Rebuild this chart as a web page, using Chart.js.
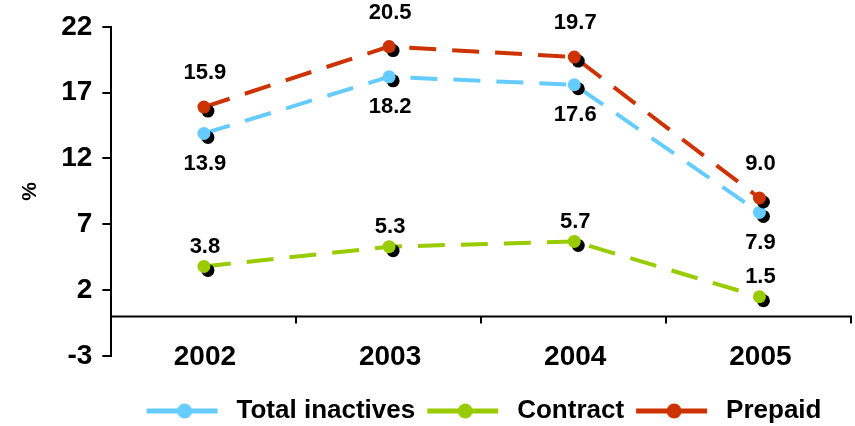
<!DOCTYPE html>
<html>
<head>
<meta charset="utf-8">
<script src="https://cdn.jsdelivr.net/npm/chart.js@4.4.1/dist/chart.umd.min.js"></script>
<style>
  html, body { margin: 0; padding: 0; background: #fff; }
  #box { width: 855px; height: 426px; }
</style>
</head>
<body>
<div id="box"><canvas id="grafico"></canvas></div>
<script>
// dados
const anos = ["2002", "2003", "2004", "2005"]
const totalInativos = [13.9, 18.2, 17.6, 7.9]
const contrato = [3.8, 5.3, 5.7, 1.5]
const prePago = [15.9, 20.5, 19.7, 9.0]
const ticksY = [-3, 2, 7, 12, 17, 22]

const fonte = "'Liberation Sans', Arial, sans-serif"

// icone da legenda: linha com bolinha (com margens transparentes)
function iconeLegenda(cor) {
    let c = document.createElement("canvas")
    c.width = 85
    c.height = 16
    let g = c.getContext("2d")
    g.strokeStyle = cor
    g.lineWidth = 5
    g.beginPath()
    g.moveTo(8, 8)
    g.lineTo(79, 8)
    g.stroke()
    g.fillStyle = cor
    g.beginPath()
    g.arc(46, 8, 7.5, 0, Math.PI * 2)
    g.fill()
    return c
}

// sombra preta atras dos pontos
const sombraPontos = {
    id: "sombraPontos",
    afterDatasetsDraw(chart) {
        let ctx = chart.ctx
        ctx.save()
        chart.data.datasets.forEach((ds, i) => {
            let meta = chart.getDatasetMeta(i)
            meta.data.forEach(p => {
                ctx.fillStyle = "#000"
                ctx.beginPath()
                ctx.arc(p.x + 4, p.y + 4, 6.5, 0, Math.PI * 2)
                ctx.fill()
                ctx.fillStyle = ds.borderColor
                ctx.beginPath()
                ctx.arc(p.x, p.y, 6.5, 0, Math.PI * 2)
                ctx.fill()
            })
        })
        ctx.restore()
    }
}

// eixo x na linha do zero + marcas entre categorias + anos
const eixoZero = {
    id: "eixoZero",
    beforeDatasetsDraw(chart) {
        let ctx = chart.ctx
        let sx = chart.scales.x
        let y0 = chart.scales.y.getPixelForValue(0)
        let area = chart.chartArea
        ctx.save()
        ctx.strokeStyle = "#000"
        ctx.lineWidth = 2
        ctx.beginPath()
        ctx.moveTo(area.left, y0)
        ctx.lineTo(area.right, y0)
        let n = chart.data.labels.length
        let larg = (area.right - area.left) / n
        for (let i = 1; i <= n; i++) {
            let x = Math.round(area.left + i * larg) - 1
            ctx.moveTo(x, y0)
            ctx.lineTo(x, y0 + 7)
        }
        ctx.stroke()

        // rotulos do eixo x, centrados na base da escala y
        ctx.font = "bold 28px " + fonte
        ctx.fillStyle = "#000"
        ctx.textAlign = "center"
        ctx.textBaseline = "middle"
        chart.data.labels.forEach((rot, i) => {
            ctx.fillText(rot, sx.getPixelForValue(i) + 1, area.bottom + 1)
        })
        ctx.restore()
    }
}

// rotulos dos valores
const deslocRotulo = [30, -20, -34]
const rotulos = {
    id: "rotulos",
    afterDraw(chart) {
        let ctx = chart.ctx
        ctx.save()
        ctx.font = "bold 22px " + fonte
        ctx.fillStyle = "#000"
        ctx.textAlign = "center"
        ctx.textBaseline = "middle"
        chart.data.datasets.forEach((ds, i) => {
            let meta = chart.getDatasetMeta(i)
            meta.data.forEach((p, j) => {
                ctx.fillText(ds.data[j].toFixed(1), p.x + 1, p.y + deslocRotulo[i])
            })
        })
        ctx.restore()
    }
}

// empurra a legenda para a direita e para baixo
const moveLegenda = {
    id: "moveLegenda",
    afterLayout(chart) {
        chart.legend.left += 45
        chart.legend.right += 45
        chart.legend.top += 8
        chart.legend.bottom += 8
    }
}

let linha = (rotulo, dados, cor) => ({
    label: rotulo,
    data: dados,
    borderColor: cor,
    backgroundColor: cor,
    borderWidth: 4,
    borderDash: [27, 16],
    pointRadius: 0,
    pointHoverRadius: 0,
    pointStyle: iconeLegenda(cor),
    tension: 0,
    fill: false
})

new Chart(document.getElementById("grafico"), {
    type: "line",
    data: {
        labels: anos,
        datasets: [
            linha("Total inactives", totalInativos, "#66CCFF"),
            linha("Contract", contrato, "#99CC00"),
            linha("Prepaid", prePago, "#CC3300")
        ]
    },
    options: {
        responsive: true,
        maintainAspectRatio: false,
        animation: false,
        events: [],
        layout: { padding: { top: 8, right: 3, left: 18, bottom: 0 } },
        plugins: {
            tooltip: { enabled: false },
            legend: {
                position: "bottom",
                labels: {
                    usePointStyle: true,
                    pointStyleWidth: 85,
                    color: "#000",
                    padding: 4,
                    font: { family: fonte, size: 26, weight: "bold" }
                }
            }
        },
        scales: {
            x: {
                offset: true,
                grid: { display: false, drawTicks: false },
                border: { display: false },
                ticks: { display: false },
                afterFit: (s) => { s.height = 30 }
            },
            y: {
                min: -3,
                max: 22,
                afterBuildTicks: (s) => { s.ticks = ticksY.map(v => ({ value: v })) },
                grid: { drawOnChartArea: false, color: "#000", tickLength: 9, lineWidth: 2 },
                border: { display: true, color: "#000", width: 2 },
                ticks: {
                    color: "#000",
                    padding: 10,
                    font: { family: fonte, size: 28, weight: "bold" }
                },
                title: {
                    display: true,
                    text: "%",
                    color: "#000",
                    padding: { top: 0, bottom: 8 },
                    font: { family: fonte, size: 21, weight: "bold" }
                }
            }
        }
    },
    plugins: [eixoZero, sombraPontos, rotulos, moveLegenda]
})
</script>
</body>
</html>
